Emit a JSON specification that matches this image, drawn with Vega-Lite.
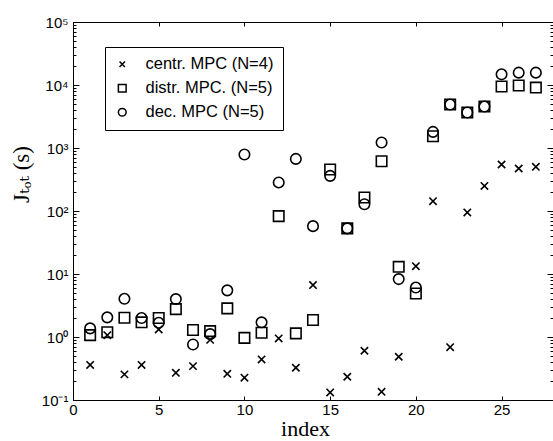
{
  "$schema": "https://vega.github.io/schema/vega-lite/v6.json",
  "width": 480,
  "height": 378,
  "autosize": "none",
  "padding": {"left": 73, "top": 22, "right": 0, "bottom": 41},
  "background": "white",
  "data": {
    "values": [
      {"index": 1, "centr": 0.36, "distr": 1.07, "dec": 1.37},
      {"index": 2, "centr": 1.07, "distr": 1.19, "dec": 2.05},
      {"index": 3, "centr": 0.255, "distr": 2.02, "dec": 4.04},
      {"index": 4, "centr": 0.36, "distr": 1.71, "dec": 2.0},
      {"index": 5, "centr": 1.32, "distr": 2.0, "dec": 1.68},
      {"index": 6, "centr": 0.27, "distr": 2.77, "dec": 4.0},
      {"index": 7, "centr": 0.345, "distr": 1.29, "dec": 0.76},
      {"index": 8, "centr": 0.9, "distr": 1.24, "dec": 1.11},
      {"index": 9, "centr": 0.26, "distr": 2.85, "dec": 5.5},
      {"index": 10, "centr": 0.226, "distr": 0.97, "dec": 789},
      {"index": 11, "centr": 0.44, "distr": 1.17, "dec": 1.71},
      {"index": 12, "centr": 0.95, "distr": 83, "dec": 284},
      {"index": 13, "centr": 0.325, "distr": 1.14, "dec": 671},
      {"index": 14, "centr": 6.67, "distr": 1.86, "dec": 57.5},
      {"index": 15, "centr": 0.132, "distr": 455, "dec": 361},
      {"index": 16, "centr": 0.234, "distr": 53, "dec": 53},
      {"index": 17, "centr": 0.605, "distr": 164, "dec": 128},
      {"index": 18, "centr": 0.135, "distr": 617, "dec": 1222},
      {"index": 19, "centr": 0.486, "distr": 13.0, "dec": 8.3},
      {"index": 20, "centr": 13.3, "distr": 4.9, "dec": 6.1},
      {"index": 21, "centr": 143, "distr": 1538, "dec": 1800},
      {"index": 22, "centr": 0.69, "distr": 4900, "dec": 4900},
      {"index": 23, "centr": 95, "distr": 3660, "dec": 3660},
      {"index": 24, "centr": 250, "distr": 4550, "dec": 4550},
      {"index": 25, "centr": 547, "distr": 9450, "dec": 14800},
      {"index": 26, "centr": 473, "distr": 9800, "dec": 15700},
      {"index": 27, "centr": 502, "distr": 9100, "dec": 15700}
    ]
  },
  "transform": [{"fold": ["centr", "distr", "dec"], "as": ["series", "value"]}],
  "layer": [
    {
      "mark": {"type": "point", "filled": false, "strokeWidth": 1.6, "size": 110, "opacity": 1},
      "encoding": {
        "x": {
          "field": "index", "type": "quantitative",
          "scale": {"domain": [0, 28], "nice": false, "zero": false},
          "axis": {
            "orient": "bottom", "values": [0, 5, 10, 15, 20, 25], "tickSize": -4, "labelPadding": 6,
            "labelFont": "Liberation Sans", "labelFontSize": 15, "labelFlush": false,
            "title": "index", "titleFont": "Liberation Serif", "titleFontSize": 22, "titleFontWeight": "normal",
            "titleX": 232, "titleY": 35, "titleBaseline": "alphabetic"
          }
        },
        "y": {
          "field": "value", "type": "quantitative",
          "scale": {"type": "log", "domain": [0.1, 100000], "nice": false},
          "axis": {
            "orient": "left",
            "values": [0.1,0.2,0.3,0.4,0.5,0.6,0.7,0.8,0.9,1,2,3,4,5,6,7,8,9,10,20,30,40,50,60,70,80,90,100,200,300,400,500,600,700,800,900,1000,2000,3000,4000,5000,6000,7000,8000,9000,10000,20000,30000,40000,50000,60000,70000,80000,90000,100000],
            "labelExpr": "abs(log(datum.value)/LN10 - round(log(datum.value)/LN10)) < 0.000001 ? ({'-1':'10⁻¹','0':'10⁰','1':'10¹','2':'10²','3':'10³','4':'10⁴','5':'10⁵'})['' + round(log(datum.value)/LN10)] : ''",
            "tickSize": {"condition": {"test": "abs(log(datum.value)/LN10 - round(log(datum.value)/LN10)) < 0.000001", "value": -6}, "value": -3},
            "labelPadding": 11, "labelOverlap": false, "labelFlush": false,
            "labelFont": "Liberation Sans", "labelFontSize": 15,
            "title": "Jₜₒₜ (s)", "titleFont": "Liberation Serif, DejaVu Serif", "titleFontSize": 23, "titleFontWeight": "normal",
            "titleX": -52, "titleY": 152, "titleAlign": "center", "titleBaseline": "middle", "titleAngle": 270
          }
        },
        "shape": {
          "field": "series", "type": "nominal",
          "scale": {"domain": ["centr", "distr", "dec"], "range": ["M-0.7,-0.7L0.7,0.7M-0.7,0.7L0.7,-0.7", "square", "circle"]},
          "legend": {
            "title": null, "orient": "none", "legendX": 32, "legendY": 25,
            "strokeColor": "black", "fillColor": "white", "padding": 9,
            "labelFont": "Liberation Sans", "labelFontSize": 16.5, "labelColor": "black",
            "symbolSize": 60, "symbolStrokeWidth": 1.5, "symbolStrokeColor": "black",
            "rowPadding": 7, "labelOffset": 15,
            "labelExpr": "datum.label == 'centr' ? 'centr. MPC (N=4)' : datum.label == 'distr' ? 'distr. MPC. (N=5)' : 'dec. MPC (N=5)'"
          }
        },
        "color": {"value": "black"}
      }
    },
    {
      "mark": {"type": "point", "opacity": 0},
      "encoding": {
        "x": {
          "field": "index", "type": "quantitative",
          "axis": {"orient": "top", "values": [5, 10, 15, 20, 25], "tickSize": -4, "labels": false, "title": null}
        },
        "y": {
          "field": "value", "type": "quantitative",
          "axis": {
            "orient": "right", "labels": false, "title": null,
            "values": [0.1,0.2,0.3,0.4,0.5,0.6,0.7,0.8,0.9,1,2,3,4,5,6,7,8,9,10,20,30,40,50,60,70,80,90,100,200,300,400,500,600,700,800,900,1000,2000,3000,4000,5000,6000,7000,8000,9000,10000,20000,30000,40000,50000,60000,70000,80000,90000,100000],
            "tickSize": {"condition": {"test": "abs(log(datum.value)/LN10 - round(log(datum.value)/LN10)) < 0.000001", "value": -6}, "value": -3}
          }
        }
      }
    }
  ],
  "resolve": {"axis": {"x": "independent", "y": "independent"}},
  "config": {
    "view": {"stroke": "black", "strokeWidth": 1},
    "axis": {"domainColor": "black", "tickColor": "black", "labelColor": "black", "titleColor": "black", "grid": false, "domainWidth": 1, "tickWidth": 1}
  }
}
